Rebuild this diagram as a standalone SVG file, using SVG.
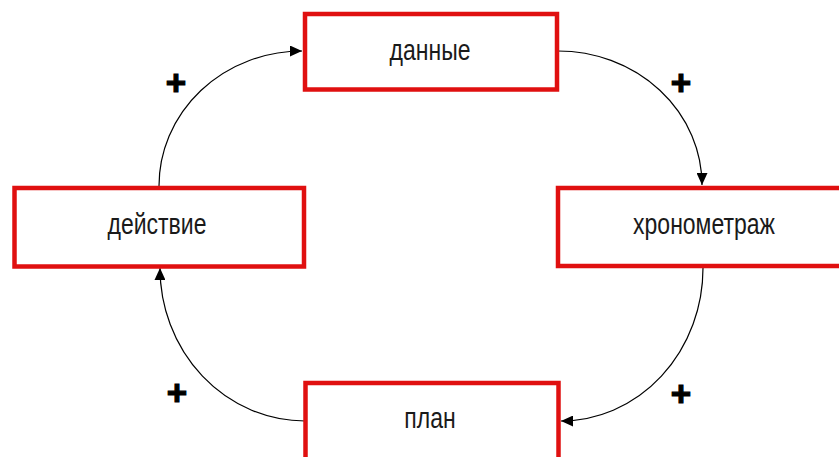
<svg xmlns="http://www.w3.org/2000/svg" width="839" height="457" viewBox="0 0 839 457">
<defs>
<style>
.box{fill:#fff;stroke:#e01010;stroke-width:4.5}
.lbl{font-family:"Liberation Sans",Arial,sans-serif;font-size:23px;fill:#1a1a1a;text-anchor:middle}
.plus{font-family:"Liberation Sans",Arial,sans-serif;font-size:35px;font-weight:bold;fill:#000;stroke:#000;stroke-width:1.2;text-anchor:middle}
.conn{fill:none;stroke:#000;stroke-width:1.2;marker-end:url(#ah)}
</style>
<marker id="ah" markerUnits="userSpaceOnUse" markerWidth="13" markerHeight="11" refX="12" refY="5.5" orient="auto">
<path d="M0,0 L12,5.5 L0,11 z" fill="#000"/>
</marker>
</defs>
<rect width="839" height="457" fill="#fff"/>
<g id="connectors">
<path class="conn" d="M159,186 A143,135 0 0 1 302,51"/>
<path class="conn" d="M558,51 A144,134 0 0 1 702,185"/>
<path class="conn" d="M703,268 A142,153 0 0 1 561,421"/>
<path class="conn" d="M305,421 A145,153 0 0 1 160,268"/>
</g>
<g id="node-dannye">
<rect class="box" x="305" y="14" width="252" height="75.5"/>
<text class="lbl" transform="translate(430,59.5) scale(1,1.25)">данные</text>
</g>
<g id="node-deystvie">
<rect class="box" x="14.5" y="188" width="289.5" height="78.5"/>
<text class="lbl" transform="translate(157,233.5) scale(1,1.25)">действие</text>
</g>
<g id="node-khronometrazh">
<rect class="box" x="558" y="188" width="300" height="78"/>
<text class="lbl" transform="translate(704,234) scale(1,1.25)">хронометраж</text>
</g>
<g id="node-plan">
<rect class="box" x="305.5" y="383" width="253" height="100"/>
<text class="lbl" transform="translate(430,428) scale(1,1.25)">план</text>
</g>
<g id="signs">
<text class="plus" x="176" y="94.5">+</text>
<text class="plus" x="681" y="94.5">+</text>
<text class="plus" x="681" y="405.5">+</text>
<text class="plus" x="177" y="404.5">+</text>
</g>
</svg>
